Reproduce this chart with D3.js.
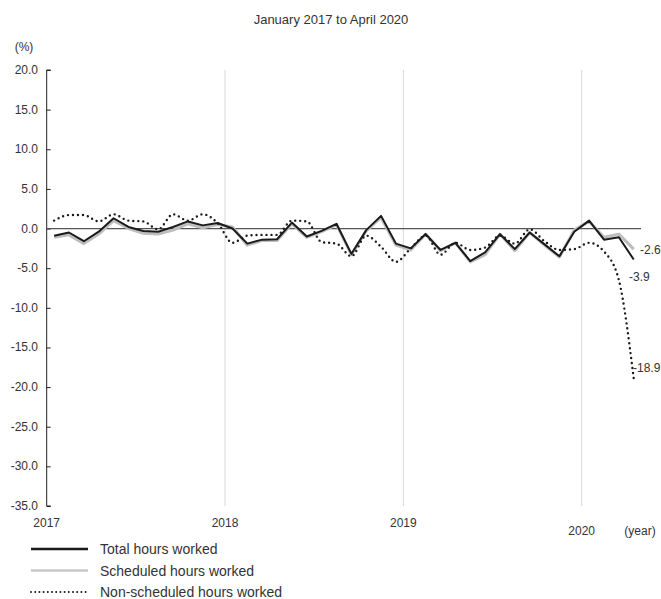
<!DOCTYPE html>
<html><head><meta charset="utf-8">
<script src="https://cdn.jsdelivr.net/npm/d3@7"></script>
<style>
body{margin:0;background:#fff;}
text{font-family:"Liberation Sans",Arial,sans-serif;fill:#333;}
</style></head>
<body><svg id="c" width="661" height="599"></svg>
<script>
const months = d3.range(40); // Jan 2017 .. Apr 2020
const total = [-0.9,-0.5,-1.6,-0.4,1.3,0.2,-0.3,-0.4,0.2,0.9,0.4,0.7,
  0.0,-1.9,-1.4,-1.35,0.75,-1.0,-0.3,0.6,-3.2,-0.2,1.6,-1.9,
  -2.5,-0.7,-2.7,-1.8,-4.1,-3.0,-0.7,-2.6,-0.5,-2.0,-3.5,-0.4,
  1.0,-1.4,-1.1,-3.9];
const scheduled = [-1.1,-0.8,-1.9,-0.7,1.0,0.0,-0.6,-0.7,-0.2,0.6,0.1,0.5,
  0.2,-2.1,-1.5,-1.5,0.6,-1.1,-0.4,0.5,-3.3,-0.3,1.4,-2.1,
  -2.7,-0.7,-2.8,-1.8,-4.2,-3.3,-0.7,-2.8,-0.5,-2.1,-3.6,-0.2,
  0.9,-1.1,-0.7,-2.6];
const nonScheduled = [1.0,1.7,1.7,0.9,1.8,1.0,0.9,-0.1,1.8,1.0,1.8,0.7,
  -1.8,-0.9,-0.8,-0.8,1.0,0.9,-1.7,-1.9,-3.5,-0.9,-2.3,-4.2,
  -2.5,-0.9,-3.3,-1.8,-2.7,-2.4,-0.9,-1.9,-0.1,-1.6,-2.7,-2.6,
  -1.8,-2.9,-6.5,-18.9];
const yearTicks = [0,12,24,36];
const yearLabels = ["2017","2018","2019","2020"];
const yTicks = [20,15,10,5,0,-5,-10,-15,-20,-25,-30,-35];
const seriesNames = ["Total hours worked","Scheduled hours worked","Non-scheduled hours worked"];
const endLabels = ["-2.6","-3.9","-18.9"];

const svg = d3.select("#c");
const x = d3.scaleLinear().domain([0,36]).range([46.7,581.7]);
const y = d3.scaleLinear().domain([-35,20]).range([506,70]);

// title
svg.append("text").attr("x",331).attr("y",24).attr("text-anchor","middle")
  .style("font-size","13px").text("January 2017 to April 2020");
svg.append("text").attr("x",24).attr("y",51).attr("text-anchor","middle")
  .style("font-size","12px").text("(%)");

// vertical grid lines
svg.append("g").selectAll("line").data(yearTicks.slice(1)).join("line")
  .attr("x1",d=>x(d)).attr("x2",d=>x(d)).attr("y1",y(20)).attr("y2",y(-35))
  .attr("stroke","#d8d8d8").attr("stroke-width",1);

// y axis
const yAxis = d3.axisRight(y).tickValues(yTicks).tickSize(4).tickFormat("");
const ga = svg.append("g").attr("transform",`translate(${x(0)},0)`).call(yAxis);
ga.select(".domain").attr("stroke","#222").attr("d",`M4,${y(20)}H0V${y(-35)}H4`);
ga.selectAll(".tick line").attr("stroke","#222");
svg.append("g").selectAll("text").data(yTicks).join("text")
  .attr("x",38).attr("y",d=>y(d)+4).attr("text-anchor","end")
  .style("font-size","12px").text(d=>d.toFixed(1));

// zero line
svg.append("line").attr("x1",x(0)).attr("x2",641).attr("y1",y(0)).attr("y2",y(0))
  .attr("stroke","#555").attr("stroke-width",1.2);

// x labels
svg.append("g").selectAll("text").data(yearTicks).join("text")
  .attr("x",d=>x(d)).attr("y",(d,i)=>i===3?535:527).attr("text-anchor","middle")
  .style("font-size","12px").text((d,i)=>yearLabels[i]);
svg.append("text").attr("x",640).attr("y",535).attr("text-anchor","middle")
  .style("font-size","12px").text("(year)");

const line = d3.line().x((d,i)=>x(i+0.5)).y(d=>y(d));
const lineSmooth = d3.line().x((d,i)=>x(i+0.5)).y(d=>y(d)).curve(d3.curveMonotoneX);

svg.append("path").datum(scheduled).attr("d",line).attr("fill","none")
  .attr("stroke","#bdbdbd").attr("stroke-width",3).attr("stroke-linejoin","round");
svg.append("path").datum(total).attr("d",line).attr("fill","none")
  .attr("stroke","#1a1a1a").attr("stroke-width",2).attr("stroke-linejoin","round");
svg.append("path").datum(nonScheduled).attr("d",lineSmooth).attr("fill","none")
  .attr("stroke","#1a1a1a").attr("stroke-width",2.4).attr("stroke-dasharray","0,5")
  .attr("stroke-linecap","round");

// end labels
const last = 39;
svg.append("text").attr("x",640).attr("y",y(scheduled[last])+5).style("font-size","12px")
  .attr("fill","#444").text(endLabels[0]);
svg.append("text").attr("x",629).attr("y",y(total[last])+22).style("font-size","12px")
  .attr("fill","#444").text(endLabels[1]);
svg.append("text").attr("x",633).attr("y",y(nonScheduled[last])-6).style("font-size","12px")
  .attr("fill","#444").text(endLabels[2]);

// legend
const lg = svg.append("g");
const styles = [
  {stroke:"#1a1a1a",w:2.5,dash:null,cap:"butt"},
  {stroke:"#c8c8c8",w:2.5,dash:null,cap:"butt"},
  {stroke:"#1a1a1a",w:2,dash:"0,4.2",cap:"round"}
];
seriesNames.forEach((n,i)=>{
  const yy = 549 + i*21.5;
  const l = lg.append("line").attr("x1",31).attr("x2",88).attr("y1",yy).attr("y2",yy)
    .attr("stroke",styles[i].stroke).attr("stroke-width",styles[i].w)
    .attr("stroke-linecap",styles[i].cap);
  if(styles[i].dash) l.attr("stroke-dasharray",styles[i].dash);
  lg.append("text").attr("x",100).attr("y",yy+5).style("font-size","14px").text(n);
});
</script></body></html>
